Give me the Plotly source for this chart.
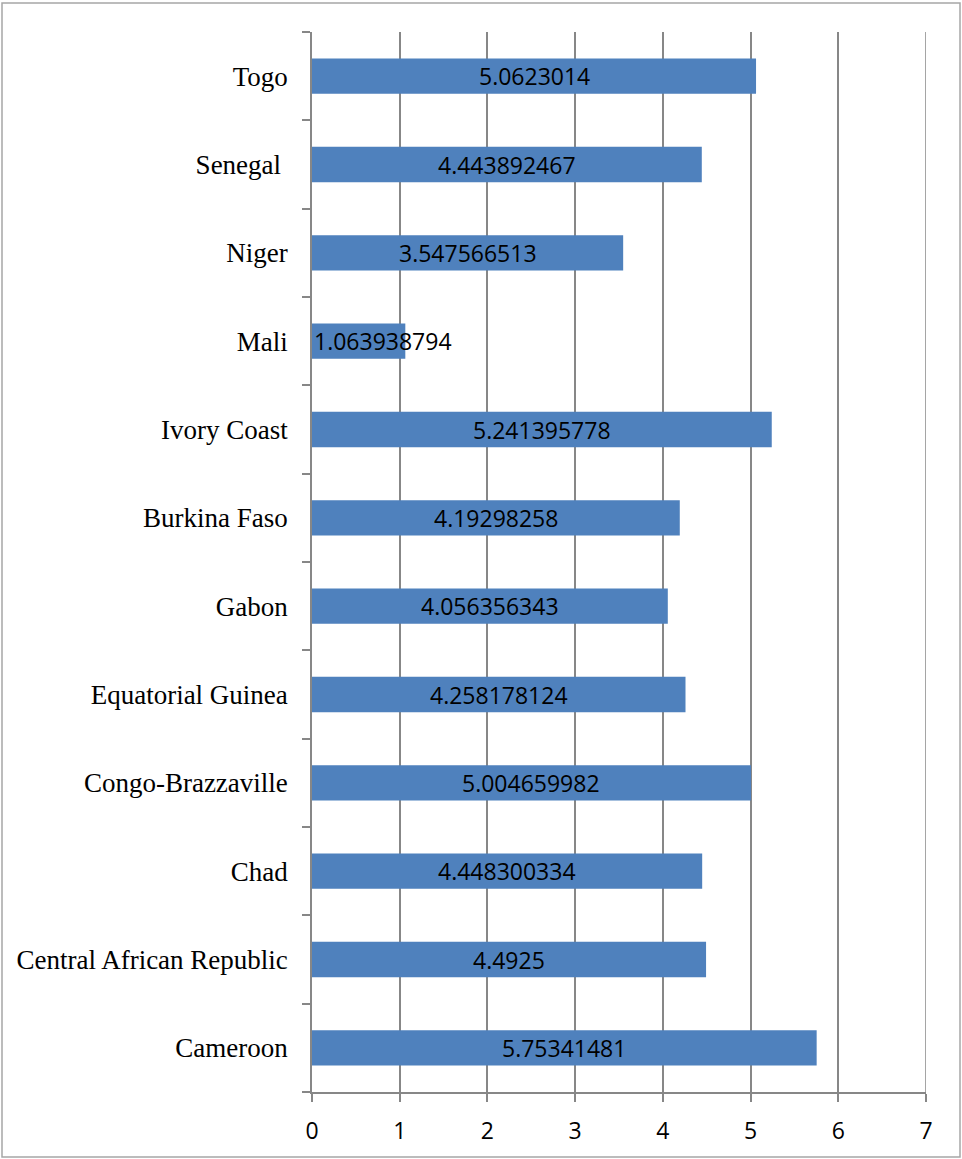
import plotly.graph_objects as go

# Categories listed bottom to top
countries = [
    "Cameroon", "Central African Republic", "Chad", "Congo-Brazzaville",
    "Equatorial Guinea", "Gabon", "Burkina Faso", "Ivory Coast",
    "Mali", "Niger", "Senegal ", "Togo",
]
values = [
    5.75341481, 4.4925, 4.448300334, 5.004659982,
    4.258178124, 4.056356343, 4.19298258, 5.241395778,
    1.063938794, 3.547566513, 4.443892467, 5.0623014,
]
labels = [
    "5.75341481", "4.4925", "4.448300334", "5.004659982",
    "4.258178124", "4.056356343", "4.19298258", "5.241395778",
    "1.063938794", "3.547566513", "4.443892467", "5.0623014",
]
x_ticks = [0, 1, 2, 3, 4, 5, 6, 7]

W, H = 962, 1159
ML, MR, MT, MB = 312, 36, 32, 67
X_MAX = 7
LABEL_SIZE = 23
GRID = "#878787"

fig = go.Figure(
    go.Bar(
        x=values,
        y=countries,
        orientation="h",
        marker=dict(color="#4F81BD", line=dict(width=0)),
        hoverinfo="x+y",
    )
)

# Value labels centred on each bar; labels wider than the bar start at the axis
px_per_unit = (W - ML - MR) / X_MAX
annotations = []
for c, v, t in zip(countries, values, labels):
    est_w = (len(t) - 1) * 0.572 * LABEL_SIZE + 0.27 * LABEL_SIZE
    if est_w / 2 > v * px_per_unit / 2:
        annotations.append(dict(x=0, y=c, xref="x", yref="y", text=t,
                                showarrow=False, xanchor="left", xshift=0,
                                font=dict(family="Open Sans", size=LABEL_SIZE, color="black")))
    else:
        annotations.append(dict(x=v / 2, y=c, xref="x", yref="y", text=t,
                                showarrow=False, xanchor="center",
                                font=dict(family="Open Sans", size=LABEL_SIZE, color="black")))

# Vertical gridline at the right end of the value axis
fig.add_shape(type="line", xref="x", yref="paper", x0=X_MAX, x1=X_MAX, y0=0, y1=1,
              line=dict(color=GRID, width=1.5), layer="below")

fig.update_layout(
    width=W,
    height=H,
    margin=dict(l=ML, r=MR, t=MT, b=MB),
    paper_bgcolor="white",
    plot_bgcolor="white",
    showlegend=False,
    bargap=0.6,
    annotations=annotations,
    xaxis=dict(
        range=[0, X_MAX],
        tickvals=x_ticks,
        ticktext=[str(t) for t in x_ticks],
        showgrid=True,
        gridcolor=GRID,
        gridwidth=1.5,
        zeroline=False,
        showline=True,
        linecolor=GRID,
        linewidth=1.5,
        ticks="outside",
        ticklen=8,
        tickwidth=1.5,
        tickcolor=GRID,
        ticklabelstandoff=10,
        tickfont=dict(family="Open Sans", size=LABEL_SIZE, color="black"),
    ),
    yaxis=dict(
        type="category",
        range=[-0.5, len(countries) - 0.5],
        showgrid=False,
        zeroline=False,
        showline=True,
        linecolor=GRID,
        linewidth=1.5,
        ticks="outside",
        tickson="boundaries",
        ticklen=8,
        tickwidth=1.5,
        tickcolor=GRID,
        ticklabelstandoff=17,
        tickfont=dict(family="Liberation Serif", size=27, color="black"),
    ),
)

# Outer chart border
fig.add_shape(type="rect", xref="paper", yref="paper",
              x0=(2 - ML) / (W - ML - MR), x1=(960 - ML) / (W - ML - MR),
              y0=(H - MB - 1157) / (H - MT - MB), y1=(H - MB - 3) / (H - MT - MB),
              line=dict(color="#A6A6A6", width=1.5), layer="below")

fig.write_html("out.html")
